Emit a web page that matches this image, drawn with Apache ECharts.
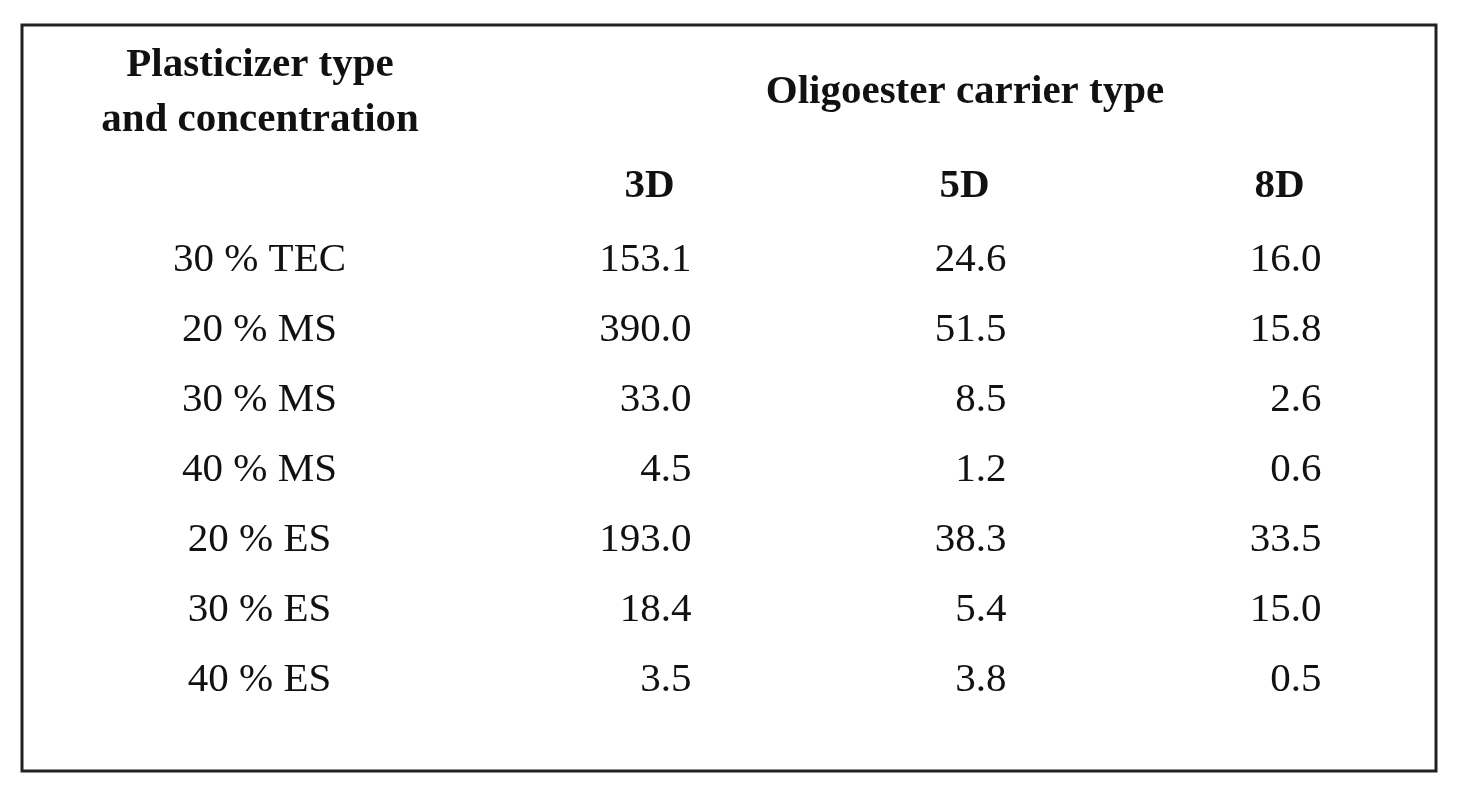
<!DOCTYPE html>
<html>
<head>
<meta charset="utf-8">
<script src="https://cdn.jsdelivr.net/npm/echarts@6/dist/echarts.min.js"></script>
<style>html,body{margin:0;background:#fff}#main{width:1471px;height:800px}</style>
</head>
<body>
<div id="main"></div>
<script>
var columns = ['', '3D', '5D', '8D'];
var rowLabels = ['30 % TEC', '20 % MS', '30 % MS', '40 % MS', '20 % ES', '30 % ES', '40 % ES'];
var val3D = ['153.1', '390.0', '33.0', '4.5', '193.0', '18.4', '3.5'];
var val5D = ['24.6', '51.5', '8.5', '1.2', '38.3', '5.4', '3.8'];
var val8D = ['16.0', '15.8', '2.6', '0.6', '33.5', '15.0', '0.5'];

var chart = echarts.init(document.getElementById('main'));
var font = '"Liberation Serif", "DejaVu Serif", serif';

var labelData = rowLabels.map(function (r) { return [columns[0], r, r]; });
var valueData = [];
[val3D, val5D, val8D].forEach(function (col, c) {
    for (var i = 0; i < col.length; i++) valueData.push([columns[c + 1], rowLabels[i], col[i]]);
});

chart.setOption({
    animation: false,
    backgroundColor: '#fff',
    textStyle: { fontFamily: font },
    grid: { left: 177, width: 1260, top: 225, height: 490 },
    xAxis: {
        type: 'category', data: columns, position: 'top',
        axisLine: { show: false }, axisTick: { show: false }, splitLine: { show: false },
        axisLabel: { margin: 18, fontSize: 41, fontWeight: 'bold', color: '#111', fontFamily: font }
    },
    yAxis: {
        type: 'category', data: rowLabels, inverse: true,
        axisLine: { show: false }, axisTick: { show: false }, axisLabel: { show: false }
    },
    graphic: [
        { type: 'rect', shape: { x: 22, y: 25, width: 1414, height: 746 },
          style: { fill: 'none', stroke: '#222', lineWidth: 3 } },
        { type: 'text', x: 260, y: 93, style: { text: 'Plasticizer type\nand concentration',
          font: 'bold 41px ' + font, fill: '#111', textAlign: 'center', textVerticalAlign: 'middle', lineHeight: 55 } },
        { type: 'text', x: 965, y: 92, style: { text: 'Oligoester carrier type',
          font: 'bold 41px ' + font, fill: '#111', textAlign: 'center', textVerticalAlign: 'middle' } }
    ],
    series: [
        {
            type: 'scatter', symbolSize: 0, data: labelData, itemStyle: { opacity: 1 },
            label: { show: true, position: 'inside', offset: [-75, 0], fontSize: 41, color: '#111',
                fontFamily: font, formatter: function (p) { return p.data[2]; } }
        },
        {
            type: 'scatter', symbolSize: 0, data: valueData, itemStyle: { opacity: 1 },
            label: { show: true, position: 'inside', align: 'right', offset: [42, 0], fontSize: 41, color: '#111',
                fontFamily: font, formatter: function (p) { return p.data[2]; } }
        }
    ]
});
</script>
</body>
</html>
